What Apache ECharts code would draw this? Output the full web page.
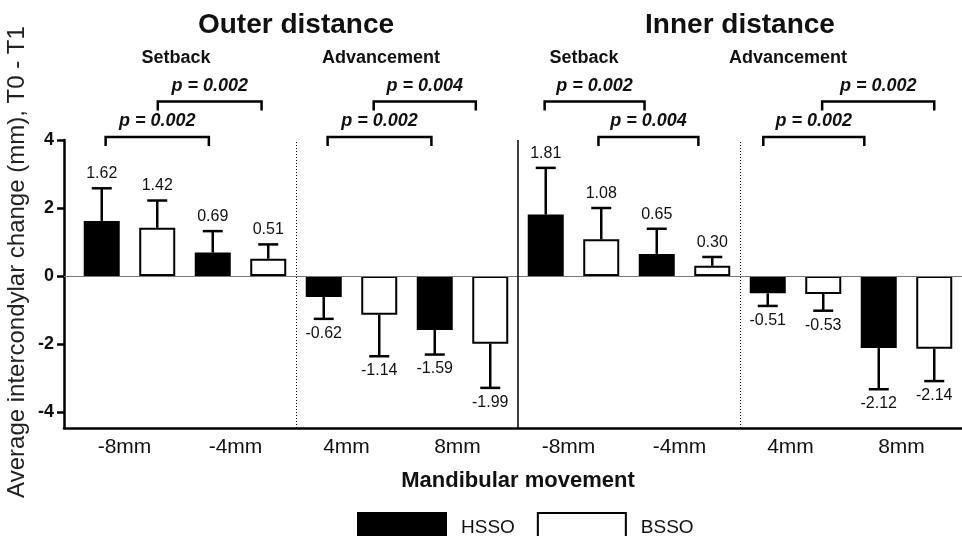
<!DOCTYPE html>
<html>
<head>
<meta charset="utf-8">
<script src="https://cdn.jsdelivr.net/npm/echarts@6/dist/echarts.min.js"></script>
<style>html,body{margin:0;padding:0;background:#fff}#c{width:962px;height:536px}</style>
</head>
<body>
<div id="c"></div>
<script>
// ---- data ----
var groupLabels = ['-8mm', '-4mm', '4mm', '8mm', '-8mm', '-4mm', '4mm', '8mm'];
var seriesNames = ['HSSO', 'BSSO'];
// means per group (order of groupLabels)
var hssoMean = [1.62, 0.69, -0.62, -1.59, 1.81, 0.65, -0.51, -2.12];
var bssoMean = [1.42, 0.51, -1.14, -1.99, 1.08, 0.30, -0.53, -2.14];
// standard deviations (error bars, one-sided)
var hssoSD = [0.96, 0.63, 0.64, 0.72, 1.37, 0.74, 0.37, 1.21];
var bssoSD = [0.80, 0.42, 1.22, 1.30, 0.92, 0.26, 0.49, 0.95];
var yTicks = [-4, -2, 0, 2, 4];
// significance brackets: [from x, to x, level (y units), p text]
var bracketFrom = [1.07, 2.01, 5.07, 5.90, 8.98, 9.95, 12.92, 13.98];
var bracketTo = [2.93, 3.88, 6.94, 7.74, 10.78, 11.75, 14.74, 16.0];
var bracketLevel = [4.09, 5.13, 4.09, 5.13, 5.13, 4.09, 4.09, 5.13];
var bracketP = ['p = 0.002', 'p = 0.002', 'p = 0.002', 'p = 0.004', 'p = 0.002', 'p = 0.004', 'p = 0.002', 'p = 0.002'];

// ---- build ----
var FONT = 'Liberation Sans, Arial, Helvetica, sans-serif';
var hData = [], bData = [], errData = [];
for (var i = 0; i < groupLabels.length; i++) {
  var xh = 2 * i + 1, xb = 2 * i + 2;
  hData.push([xh, hssoMean[i]]);
  bData.push([xb, bssoMean[i]]);
  errData.push([xh, hssoMean[i], hssoSD[i]]);
  errData.push([xb, bssoMean[i], bssoSD[i]]);
}
var labelPos = groupLabels.map(function (_, i) { return 2 * i + 1.5; });
var nBars = groupLabels.length * 2;
var dividers = [];
for (var d = 4; d < nBars; d += 4) dividers.push(d + 0.5);
var bracketData = bracketFrom.map(function (f, i) { return [f, bracketTo[i], bracketLevel[i], i]; });

var chart = echarts.init(document.getElementById('c'), null, { renderer: 'canvas' });
var option = {
  animation: false,
  backgroundColor: '#fff',
  textStyle: { fontFamily: FONT },
  grid: { left: 64, right: 0, top: 140, bottom: 108, containLabel: false },
  xAxis: {
    type: 'value', min: 0.32, max: 16.5,
    axisLine: { onZero: false, lineStyle: { color: '#000', width: 2.5 } },
    axisTick: { show: false },
    splitLine: { show: false },
    axisLabel: {
      customValues: labelPos,
      formatter: function (v) { return groupLabels[Math.round((v - 1.5) / 2)]; },
      color: '#111', fontSize: 21, fontFamily: FONT, margin: 9, padding: [0, 10, 0, 0]
    }
  },
  yAxis: {
    type: 'value', min: -4.47, max: 4,
    axisLine: { show: true, lineStyle: { color: '#000', width: 2.5 } },
    axisTick: { show: true, customValues: yTicks, length: 7, lineStyle: { color: '#000', width: 2.5 } },
    splitLine: { show: false },
    axisLabel: { customValues: yTicks, color: '#111', fontSize: 18, fontWeight: 'bold', fontFamily: FONT, margin: 10 }
  },
  legend: {
    left: 352, top: 507, itemWidth: 88, itemHeight: 30, itemGap: 22,
    icon: 'rect',
    textStyle: { fontSize: 19, color: '#111', fontFamily: FONT, padding: [0, 0, 0, 10] },
    data: [
      { name: 'HSSO', itemStyle: { color: '#000', borderColor: '#000', borderWidth: 2 } },
      { name: 'BSSO', itemStyle: { color: '#fff', borderColor: '#000', borderWidth: 2 } }
    ]
  },
  graphic: [
    { type: 'text', x: 296, y: 25, style: { text: 'Outer distance', font: 'bold 28px ' + FONT, fill: '#111', align: 'center', verticalAlign: 'middle' } },
    { type: 'text', x: 740, y: 25, style: { text: 'Inner distance', font: 'bold 28px ' + FONT, fill: '#111', align: 'center', verticalAlign: 'middle' } },
    { type: 'text', x: 176, y: 58, style: { text: 'Setback', font: 'bold 18px ' + FONT, fill: '#111', align: 'center', verticalAlign: 'middle' } },
    { type: 'text', x: 381, y: 58, style: { text: 'Advancement', font: 'bold 18px ' + FONT, fill: '#111', align: 'center', verticalAlign: 'middle' } },
    { type: 'text', x: 584, y: 58, style: { text: 'Setback', font: 'bold 18px ' + FONT, fill: '#111', align: 'center', verticalAlign: 'middle' } },
    { type: 'text', x: 788, y: 58, style: { text: 'Advancement', font: 'bold 18px ' + FONT, fill: '#111', align: 'center', verticalAlign: 'middle' } },
    { type: 'text', x: 518, y: 481, style: { text: 'Mandibular movement', font: 'bold 22px ' + FONT, fill: '#111', align: 'center', verticalAlign: 'middle' } },
    { type: 'text', x: 17, y: 262, rotation: Math.PI / 2, style: { text: 'Average intercondylar change (mm), T0 - T1', font: '24px ' + FONT, fill: '#222', align: 'center', verticalAlign: 'middle' } }
  ],
  series: [
    {
      name: 'HSSO', type: 'bar', data: hData, barWidth: 36, barGap: '-100%',
      itemStyle: { color: '#000', borderColor: '#000', borderWidth: 2 },
      markLine: {
        silent: true, symbol: ['none', 'none'], label: { show: false },
        data: [{ yAxis: 0, lineStyle: { color: '#777', width: 1, type: 'solid' } }].concat(
          dividers.map(function (v, i) {
            return { xAxis: v, lineStyle: { color: '#000', width: i === 1 ? 1.5 : 1, type: i === 1 ? 'solid' : [1, 2] } };
          }))
      },
      z: 2
    },
    {
      name: 'BSSO', type: 'bar', data: bData, barWidth: 36, barGap: '-100%',
      itemStyle: { color: '#fff', borderColor: '#000', borderWidth: 2 }, z: 2
    },
    {
      type: 'custom', name: 'err', data: errData, z: 3, silent: true, clip: false,
      renderItem: function (params, api) {
        var x = api.value(0), m = api.value(1), sd = api.value(2);
        var s = m >= 0 ? 1 : -1;
        var p0 = api.coord([x, m]);
        var p1 = api.coord([x, m + s * sd]);
        var st = { stroke: '#000', lineWidth: 2.5 };
        return {
          type: 'group',
          children: [
            { type: 'line', shape: { x1: p0[0], y1: p0[1], x2: p1[0], y2: p1[1] }, style: st },
            { type: 'line', shape: { x1: p1[0] - 10, y1: p1[1], x2: p1[0] + 10, y2: p1[1] }, style: st },
            { type: 'text', x: p1[0], y: p1[1] - s * 14.5,
              style: { text: m.toFixed(2), font: '16px ' + FONT, fill: '#111', align: 'center', verticalAlign: 'middle' } }
          ]
        };
      }
    },
    {
      type: 'custom', name: 'brackets', data: bracketData, z: 3, silent: true, clip: false,
      renderItem: function (params, api) {
        var a = api.coord([api.value(0), api.value(2)]);
        var b = api.coord([api.value(1), api.value(2)]);
        var drop = 9;
        var idx = api.value(3);
        return {
          type: 'group',
          children: [
            { type: 'polyline', shape: { points: [[a[0], a[1] + drop], [a[0], a[1]], [b[0], b[1]], [b[0], b[1] + drop]] },
              style: { stroke: '#000', lineWidth: 2.5, fill: null } },
            { type: 'text', x: (a[0] + b[0]) / 2, y: a[1] - 16,
              style: { text: bracketP[idx], font: 'italic bold 18px ' + FONT, fill: '#111', align: 'center', verticalAlign: 'middle' } }
          ]
        };
      }
    }
  ]
};
chart.setOption(option);
</script>
</body>
</html>
